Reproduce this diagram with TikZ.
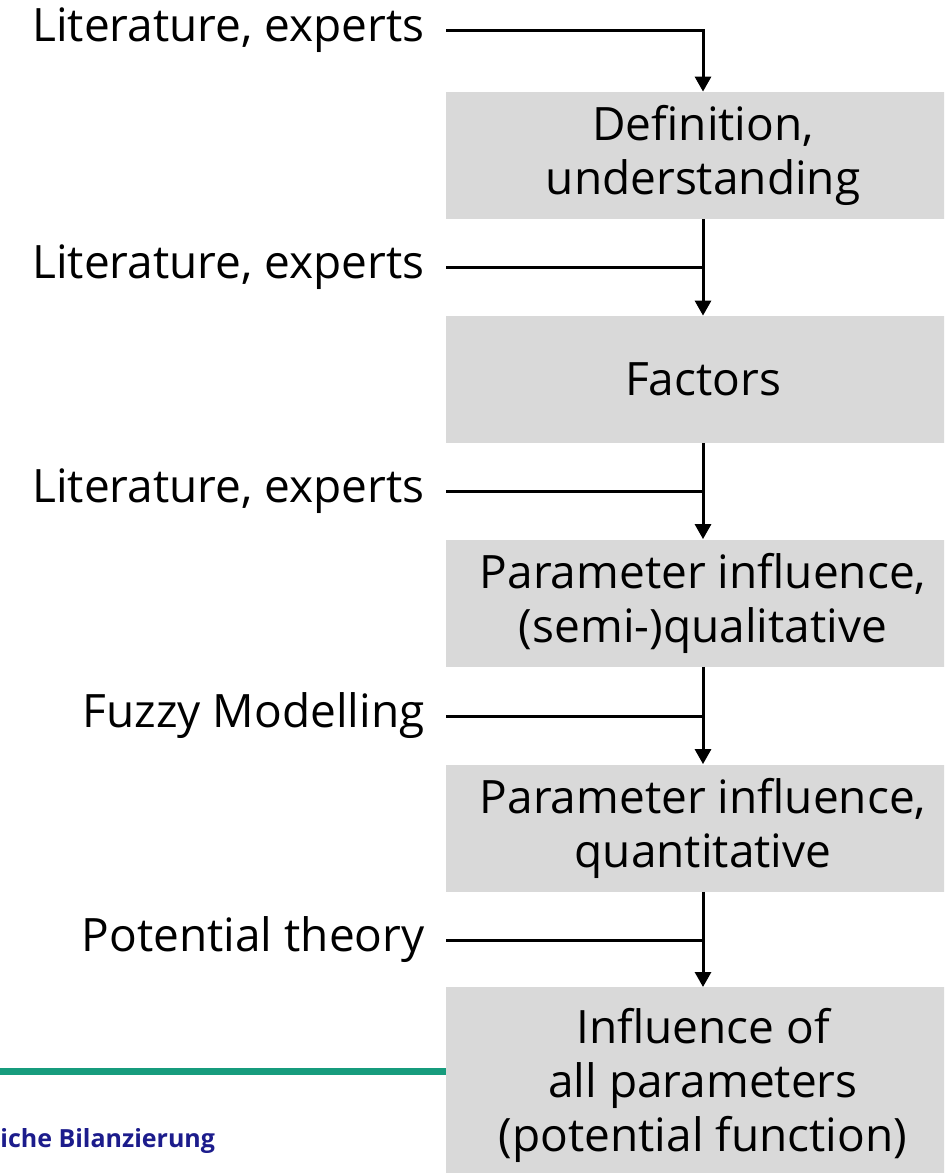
\documentclass[tikz,border=0pt]{standalone}
\usepackage{fontspec}
\setmainfont{Open Sans}
\usetikzlibrary{arrows.meta}

\definecolor{boxgray}{RGB}{217,217,217}
\definecolor{fhgreen}{RGB}{23,156,125}
\definecolor{fhblue}{RGB}{28,28,140}

\tikzset{
  stepbox/.style={fill=boxgray, minimum width=257pt, minimum height=63.5pt,
    inner sep=0pt, align=center, font=\fontsize{23}{27}\selectfont},
  source/.style={anchor=east, inner xsep=10.5pt, inner ysep=0pt,
    font=\fontsize{23}{27}\selectfont},
  feed/.style={line width=1.5pt},
  flow/.style={feed, -{Triangle[length=7.5pt,width=8pt]}}
}

\begin{document}
\begin{tikzpicture}[x=0.5pt,y=-0.5pt]
	\clip (0,0) rectangle (944,1173);

	\node[stepbox] (b1) at (703,155.5) {Definition,\\understanding};
	\node[stepbox] (b2) at (703,379.5) {Factors};
	\node[stepbox] (b3) at (703,603) {Parameter influence,\\(semi-)qualitative};
	\node[stepbox] (b4) at (703,828) {Parameter influence,\\quantitative};
	\node[stepbox, inner ysep=10.5pt, anchor=north] (b5) at (703,987)
		{Influence of\\all parameters\\(potential function)};

	\node[source] (l1) at (446,30) {Literature, experts};
	\node[source] (l2) at (446,267) {Literature, experts};
	\node[source] (l3) at (446,491) {Literature, experts};
	\node[source] (l4) at (446,716) {Fuzzy Modelling};
	\node[source] (l5) at (446,940) {Potential theory};

	\draw [flow] (l1.east) -| (b1.north);
	\draw [flow] (b1.south) -- (b2.north);
	\draw [flow] (b2.south) -- (b3.north);
	\draw [flow] (b3.south) -- (b4.north);
	\draw [flow] (b4.south) -- (b5.north);

	\draw [feed] (l2.east) -- (l2.east -| b1.south);
	\draw [feed] (l3.east) -- (l3.east -| b2.south);
	\draw [feed] (l4.east) -- (l4.east -| b3.south);
	\draw [feed] (l5.east) -- (l5.east -| b4.south);

	\draw [fhgreen, line width=3.5pt] (0,1071.5) coordinate (g0) -- (g0 -| b5.west);
	\node [anchor=base west, inner sep=0pt, text=fhblue,
		font=\fontsize{12.5}{14}\selectfont\bfseries] (foot) at (0,1147) {iche Bilanzierung};
\end{tikzpicture}
\end{document}
